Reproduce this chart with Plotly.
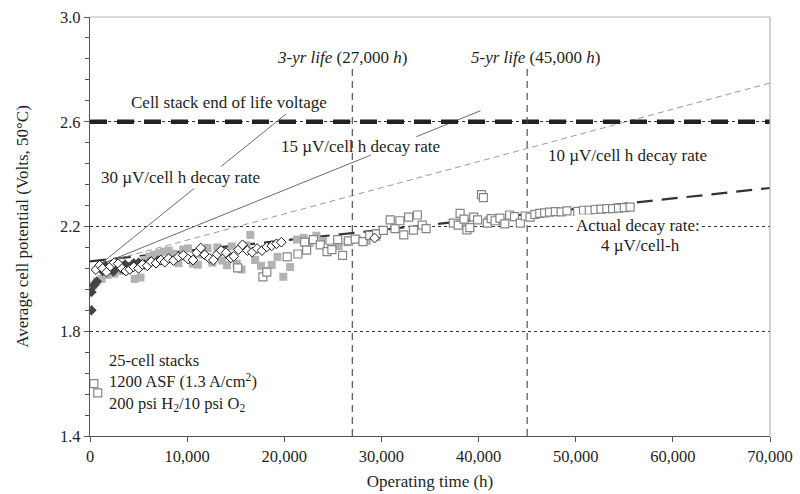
import plotly.graph_objects as go

# ---- measured stack voltages (average cell potential, V) vs operating time (h) ----
stack_a_h = [600, 1000, 1300, 1700, 2100, 2500, 2900, 3300, 3700, 4100, 4500, 5000, 5400, 5900,
             6300, 6800, 7300, 7700, 8100, 8600, 9100, 9600, 10100, 10600, 11000, 11400, 11800,
             12300, 12700, 13100, 13500, 14000, 14500, 14800, 15300, 15700, 16200, 16700, 17200,
             17700, 18200, 18700, 19200, 19700, 29300]
stack_a_v = [2.035, 2.052, 2.040, 2.026, 2.048, 2.062, 2.058, 2.040, 2.030, 2.036, 2.046, 2.040,
             2.055, 2.050, 2.066, 2.060, 2.072, 2.064, 2.078, 2.070, 2.084, 2.090, 2.076, 2.072,
             2.100, 2.118, 2.092, 2.078, 2.072, 2.094, 2.108, 2.100, 2.080, 2.086, 2.112, 2.130,
             2.108, 2.102, 2.116, 2.108, 2.122, 2.126, 2.134, 2.140, 2.156]

stack_b_h = [150, 150, 400, 700, 1000, 1300, 1600, 2000, 2400, 2800, 3200, 3600, 4000, 4500,
             5000, 5600, 6200, 7000]
stack_b_v = [1.880, 1.950, 1.975, 1.990, 2.045, 2.030, 2.050, 2.038, 2.028, 2.050, 2.040, 2.055,
             2.045, 2.060, 2.062, 2.055, 2.066, 2.070]

stack_c_h = [300, 700, 1200, 1800, 2500, 3200, 3900, 4600, 5200, 5600, 6100, 6600, 7100, 7600,
             8100, 8600, 9100, 9600, 10100, 10600, 11100, 11600, 12100, 12600, 13100, 13600,
             14100, 14600, 15100, 15600, 16100, 16500, 17000, 17600, 18100, 18700, 19300, 19900,
             20600, 21300, 22000, 22600, 23300, 24000, 24800, 25600, 26500, 27500, 28500, 29500,
             38300, 41000, 42500]
stack_c_v = [1.975, 1.990, 2.000, 2.015, 2.020, 2.030, 2.040, 2.000, 2.005, 2.072, 2.085, 2.092,
             2.098, 2.104, 2.108, 2.096, 2.060, 2.112, 2.116, 2.058, 2.054, 2.092, 2.118, 2.062,
             2.120, 2.070, 2.052, 2.124, 2.058, 2.036, 2.128, 2.168, 2.072, 2.050, 2.030, 2.053,
             2.084, 2.008, 2.045, 2.150, 2.156, 2.137, 2.165, 2.145, 2.120, 2.125, 2.140, 2.150,
             2.145, 2.160, 2.215, 2.225, 2.218]

stack_d_h = [400, 800, 15200, 17800, 18200, 20300, 21400, 22100, 22300, 23000, 23700, 24400,
             24900, 25500, 26000, 26600, 27300, 28100, 28800, 29500, 30200, 30900, 31400, 31900,
             32300, 32800, 33300, 33700, 34200, 34600, 37400, 37900, 38100, 38500, 38800, 39100,
             39500, 39900, 40300, 40500, 40900, 41300, 41700, 42200, 42700, 43200, 43700, 44300,
             44800, 45300, 45800, 46300, 46800, 47300, 47900, 48500, 49100, 50200, 50800, 51400,
             52000, 52600, 53200, 53800, 54400, 55000, 55600]
stack_d_v = [1.600, 1.565, 2.042, 2.008, 2.026, 2.084, 2.095, 2.140, 2.110, 2.150, 2.130, 2.104,
             2.112, 2.150, 2.090, 2.145, 2.152, 2.142, 2.166, 2.172, 2.185, 2.225, 2.192, 2.222,
             2.168, 2.236, 2.186, 2.244, 2.205, 2.192, 2.213, 2.205, 2.250, 2.228, 2.187, 2.196,
             2.236, 2.225, 2.322, 2.310, 2.213, 2.230, 2.222, 2.232, 2.210, 2.244, 2.238, 2.213,
             2.240, 2.236, 2.246, 2.250, 2.252, 2.255, 2.257, 2.256, 2.260, 2.258, 2.262, 2.262,
             2.265, 2.266, 2.268, 2.268, 2.270, 2.272, 2.274]

# ---- decay-rate reference lines (None = break behind its label) ----
rate30_h = [800, 11030, None, 13320, 20200]
rate30_v = [2.048, 2.355, None, 2.424, 2.630]
rate15_h = [800, 28930, None, 33600, 40200]
rate15_v = [2.051, 2.473, None, 2.543, 2.642]
rate10_h = [800, 70000]
rate10_v = [2.056, 2.748]
actual_h = [0, 70000]
actual_v = [2.067, 2.347]

end_of_life_v = 2.6
life_marks_h = [27000, 45000]
life_top_v = 2.81

x_ticks = [0, 10000, 20000, 30000, 40000, 50000, 60000, 70000]
y_ticks = [1.4, 1.8, 2.2, 2.6, 3.0]

SERIF = "Liberation Serif, Times New Roman, serif"
INK = "#231f20"
TXT = 17
TICK = 16.5

fig = go.Figure()

# reference lines
fig.add_trace(go.Scatter(x=actual_h, y=actual_v, mode="lines",
                         line=dict(color="#333333", width=2.2, dash="16px,9px")))
fig.add_trace(go.Scatter(x=rate10_h, y=rate10_v, mode="lines",
                         line=dict(color="#9a9a9a", width=1, dash="6px,4px")))
fig.add_trace(go.Scatter(x=rate15_h, y=rate15_v, mode="lines", connectgaps=False,
                         line=dict(color="#6a6a6a", width=1)))
fig.add_trace(go.Scatter(x=rate30_h, y=rate30_v, mode="lines", connectgaps=False,
                         line=dict(color="#6a6a6a", width=1)))
fig.add_trace(go.Scatter(x=[0, 70000], y=[end_of_life_v, end_of_life_v], mode="lines",
                         line=dict(color="#222222", width=4.5, dash="17px,10px")))
for h in life_marks_h:
    fig.add_trace(go.Scatter(x=[h, h], y=[1.4, life_top_v], mode="lines",
                             line=dict(color="#444444", width=1.1, dash="7px,5px")))

# measured data
fig.add_trace(go.Scatter(x=stack_c_h, y=stack_c_v, mode="markers",
                         marker=dict(symbol="square", size=8, color="#b3b3b3",
                                     line=dict(width=0))))
fig.add_trace(go.Scatter(x=stack_b_h, y=stack_b_v, mode="markers",
                         marker=dict(symbol="diamond", size=8, color="#444444",
                                     line=dict(width=0))))
fig.add_trace(go.Scatter(x=stack_d_h, y=stack_d_v, mode="markers",
                         marker=dict(symbol="square", size=8, color="white",
                                     line=dict(color="#858585", width=1.2))))
fig.add_trace(go.Scatter(x=stack_a_h, y=stack_a_v, mode="markers",
                         marker=dict(symbol="diamond", size=7.5, color="white",
                                     line=dict(color="#1a1a1a", width=1))))

# plot-area frame (top and right)
fig.add_shape(type="line", xref="paper", yref="paper", x0=0, x1=1, y0=1, y1=1,
              line=dict(color="#b5b5b5", width=1.2))
fig.add_shape(type="line", xref="paper", yref="paper", x0=1, x1=1, y0=0, y1=1,
              line=dict(color="#b5b5b5", width=1.2))

font = dict(family=SERIF, size=TXT, color=INK)
notes = [
    (14300, 2.672, "Cell stack end of life voltage", "white"),
    (9270, 2.389, "30 µV/cell h decay rate", "white"),
    (27800, 2.507, "15 µV/cell h decay rate", None),
    (55300, 2.473, "10 µV/cell h decay rate", None),
    (25950, 2.847, "<i>3-yr life</i> (27,000 <i>h</i>)", None),
    (45830, 2.847, "<i>5-yr life</i> (45,000 <i>h</i>)", None),
    (56440, 2.202, "Actual decay rate:", "white"),
    (56640, 2.129, "4 µV/cell-h", None),
]
for x, y, t, bg in notes:
    fig.add_annotation(x=x, y=y, text=t, showarrow=False, font=font,
                       xanchor="center", yanchor="middle",
                       bgcolor=bg if bg else "rgba(0,0,0,0)", borderpad=1)

# test-condition block, lower left
fig.add_annotation(
    x=1750, y=1.605, showarrow=False, xanchor="left", yanchor="middle", align="left",
    text="25-cell stacks<br>1200 ASF (1.3 A/cm<sup>2</sup>)<br>"
         "200 psi H<sub>2</sub>/10 psi O<sub>2</sub>",
    font=dict(family=SERIF, size=16.5, color=INK),
)

fig.update_layout(
    width=800, height=494,
    margin=dict(l=90, r=30, t=17, b=58),
    paper_bgcolor="white", plot_bgcolor="white",
    showlegend=False,
    font=dict(family=SERIF, size=TXT, color=INK),
)
fig.update_xaxes(
    range=[0, 70000], tickvals=x_ticks, tickformat=",d", automargin=False,
    showgrid=False, zeroline=False,
    showline=True, linecolor="#555555", linewidth=1.3,
    ticks="outside", ticklen=5, tickcolor="#555555",
    tickfont=dict(family=SERIF, size=TICK, color=INK),
    title=dict(text="Operating time (h)", standoff=10,
               font=dict(family=SERIF, size=TXT, color=INK)),
)
fig.update_yaxes(
    range=[1.4, 3.0], tickvals=y_ticks, tickformat=".1f", automargin=False,
    showgrid=True, gridcolor="#333333", gridwidth=1, griddash="dot",
    zeroline=False,
    showline=True, linecolor="#555555", linewidth=1.3,
    ticks="outside", ticklen=5, tickcolor="#555555",
    minor=dict(tick0=1.4, dtick=0.08, ticks="outside", ticklen=4, tickcolor="#555555",
               showgrid=False),
    tickfont=dict(family=SERIF, size=TICK, color=INK),
    title=dict(text="Average cell potential (Volts, 50°C)", standoff=26,
               font=dict(family=SERIF, size=TXT, color=INK)),
)

fig.write_html("out.html")
